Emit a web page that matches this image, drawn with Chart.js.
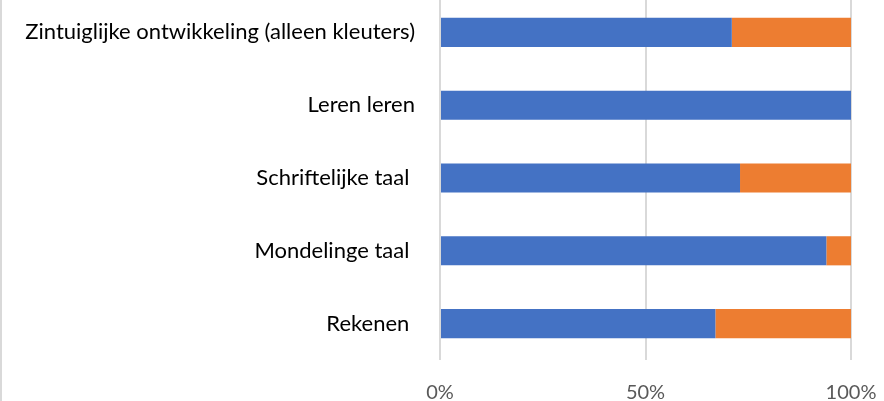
<!DOCTYPE html>
<html lang="nl">
<head>
  <meta charset="UTF-8">
  <title>Ontwikkelingsgebieden</title>
  <script src="https://cdn.jsdelivr.net/npm/chart.js"></script>
  <style>
    html, body { margin: 0; padding: 0; background: #fff; }
    #wrap { position: relative; width: 884px; height: 401px; overflow: hidden; }
    #chart { position: absolute; left: 0; top: -4px; }
    #edge { position: absolute; left: 0; top: 0; width: 2px; height: 401px; background: #d9d9d9; }
  </style>
</head>
<body>
  <div id="wrap">
    <canvas id="chart" width="884" height="405"></canvas>
    <div id="edge"></div>
  </div>

  <script>
    const categories = [
      'Zintuiglijke ontwikkeling (alleen kleuters)',
      'Leren leren',
      'Schriftelijke taal ',
      'Mondelinge taal ',
      'Rekenen '
    ];
    const blueValues = [71, 100, 73, 94, 67];
    const orangeValues = [29, 0, 27, 6, 33];
    const xTicks = [0, 50, 100];

    new Chart(document.getElementById('chart'), {
      type: 'bar',
      data: {
        labels: categories,
        datasets: [
          { label: 'Reeks 1', data: blueValues, backgroundColor: '#4472C4', barPercentage: 0.4, categoryPercentage: 1 },
          { label: 'Reeks 2', data: orangeValues, backgroundColor: '#ED7D31', barPercentage: 0.4, categoryPercentage: 1 }
        ]
      },
      options: {
        indexAxis: 'y',
        responsive: false,
        animation: false,
        layout: { padding: { right: 33, bottom: 0, top: 0, left: 0 } },
        plugins: { legend: { display: false }, tooltip: { enabled: false } },
        scales: {
          x: {
            stacked: true,
            min: 0,
            max: 100,
            afterBuildTicks: s => { s.ticks = xTicks.map(v => ({ value: v })); },
            // fixed axis size so the plot lines up with the picture
            afterFit: s => { s.height = 41; s.paddingLeft = 0; s.paddingRight = 0; },
            ticks: {
              callback: v => v + '%',
              color: '#595959',
              font: { family: 'Lato', size: 20 },
              padding: 21,
              maxRotation: 0
            },
            grid: { color: '#d9d9d9', lineWidth: 2, drawTicks: false },
            border: { display: false }
          },
          y: {
            stacked: true,
            afterFit: s => { s.width = 440; s.paddingTop = 0; s.paddingBottom = 0; },
            ticks: {
              color: '#000',
              font: { family: 'Lato', size: 22 },
              padding: 25
            },
            grid: { display: false, drawTicks: false },
            border: { display: false }
          }
        }
      }
    });
  </script>
</body>
</html>
